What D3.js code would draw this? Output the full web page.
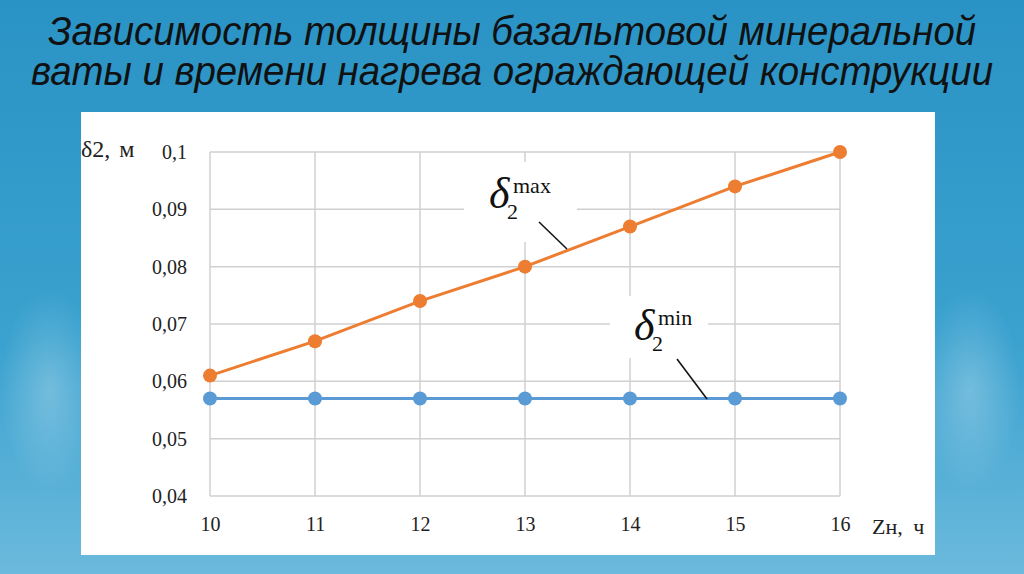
<!DOCTYPE html>
<html>
<head>
<meta charset="utf-8">
<script src="https://cdn.jsdelivr.net/npm/d3@7"></script>
<style>
  html, body { margin: 0; padding: 0; }
  body { width: 1024px; height: 574px; overflow: hidden; }
</style>
</head>
<body>
<div id="chart"></div>
<script>
// data
const hours = [10, 11, 12, 13, 14, 15, 16];
const deltaMax = [0.061, 0.067, 0.074, 0.080, 0.087, 0.094, 0.100];
const deltaMin = [0.057, 0.057, 0.057, 0.057, 0.057, 0.057, 0.057];
const yTicks = [0.04, 0.05, 0.06, 0.07, 0.08, 0.09, 0.1];
const titleLines = ["Зависимость толщины базальтовой минеральной",
                    "ваты и времени нагрева ограждающей конструкции"];

const W = 1024, H = 574;
const svg = d3.select("#chart").append("svg")
    .attr("width", W).attr("height", H);

// background
const defs = svg.append("defs");
const bg = defs.append("linearGradient").attr("id", "bg")
    .attr("x1", 0).attr("y1", 0).attr("x2", 0).attr("y2", 1);
bg.append("stop").attr("offset", "0%").attr("stop-color", "#2a93c5");
bg.append("stop").attr("offset", "60%").attr("stop-color", "#3ba2cf");
bg.append("stop").attr("offset", "100%").attr("stop-color", "#6cbadd");
const glow = defs.append("radialGradient").attr("id", "glow");
glow.append("stop").attr("offset", "0%").attr("stop-color", "#ffffff").attr("stop-opacity", 0.25);
glow.append("stop").attr("offset", "100%").attr("stop-color", "#ffffff").attr("stop-opacity", 0);

svg.append("rect").attr("width", W).attr("height", H).attr("fill", "url(#bg)");
svg.append("ellipse").attr("cx", 50).attr("cy", 390).attr("rx", 50).attr("ry", 100).attr("fill", "url(#glow)");
svg.append("ellipse").attr("cx", 970).attr("cy", 390).attr("rx", 50).attr("ry", 100).attr("fill", "url(#glow)");

// title (narrow look: smaller font stretched vertically)
svg.append("g").selectAll("text")
    .data(titleLines).enter().append("text")
    .attr("transform", (d, i) => `translate(512,${45 + i * 40}) scale(1,1.18)`)
    .attr("text-anchor", "middle")
    .attr("font-family", "'Liberation Sans Narrow', 'Arial Narrow', 'Liberation Sans', sans-serif")
    .attr("font-style", "italic")
    .attr("font-size", 35)
    .attr("fill", "#111")
    .attr("textLength", (d, i) => i === 0 ? 928 : 962)
    .attr("lengthAdjust", "spacingAndGlyphs")
    .text(d => d);

// white panel
svg.append("rect").attr("x", 81).attr("y", 112).attr("width", 854).attr("height", 443).attr("fill", "#fff");
defs.append("clipPath").attr("id", "panel").append("rect")
    .attr("x", 81).attr("y", 112).attr("width", 854).attr("height", 443);

const x = d3.scaleLinear().domain([10, 16]).range([210, 840]);
const y = d3.scaleLinear().domain([0.04, 0.1]).range([496, 152]);
const serif = "'Liberation Serif', 'DejaVu Serif', serif";

// grid
const grid = svg.append("g").attr("stroke", "#d0d0d0").attr("stroke-width", 1.5);
grid.selectAll(".gx").data(hours).enter().append("line")
    .attr("x1", d => x(d)).attr("x2", d => x(d))
    .attr("y1", y(0.1)).attr("y2", y(0.04));
grid.selectAll(".gy").data(yTicks).enter().append("line")
    .attr("x1", x(10)).attr("x2", x(16))
    .attr("y1", d => y(d)).attr("y2", d => y(d));

// axes labels
const yAxis = d3.axisLeft(y).tickValues(yTicks)
    .tickFormat(d => d3.format(".2~f")(d).replace(".", ",")).tickSize(0).tickPadding(23);
svg.append("g").attr("transform", `translate(${x(10)},0)`).call(yAxis)
    .call(g => g.select(".domain").remove())
    .call(g => g.selectAll("text").attr("font-family", serif).attr("font-size", 20).attr("fill", "#222"));

const xAxis = d3.axisBottom(x).tickValues(hours).tickFormat(d3.format("d")).tickSize(0).tickPadding(21);
svg.append("g").attr("transform", `translate(0,${y(0.04)})`).call(xAxis)
    .call(g => g.select(".domain").remove())
    .call(g => g.selectAll("text").attr("font-family", serif).attr("font-size", 20).attr("fill", "#222"));

svg.append("text").attr("x", 81).attr("y", 157)
    .attr("font-family", serif).attr("font-size", 24).attr("fill", "#222")
    .attr("word-spacing", 3)
    .text("δ2, м");
svg.append("text").attr("x", 872).attr("y", 534)
    .attr("clip-path", "url(#panel)")
    .attr("font-family", serif).attr("font-size", 22).attr("fill", "#222")
    .attr("word-spacing", 5)
    .text("Zн, ч");

// label boxes over grid
svg.append("rect").attr("x", 464).attr("y", 162).attr("width", 113).attr("height", 80).attr("fill", "#fff");
svg.append("rect").attr("x", 610).attr("y", 296).attr("width", 98).attr("height", 62).attr("fill", "#fff");

// series
const series = [
    { values: deltaMin, color: "#5b9bd5" },
    { values: deltaMax, color: "#ed7d31" }
];
const line = d3.line().x((d, i) => x(hours[i])).y(d => y(d));
series.forEach(s => {
    svg.append("path").datum(s.values)
        .attr("d", line).attr("fill", "none")
        .attr("stroke", s.color).attr("stroke-width", 3);
    svg.append("g").selectAll("circle").data(s.values).enter().append("circle")
        .attr("cx", (d, i) => x(hours[i])).attr("cy", d => y(d))
        .attr("r", 7).attr("fill", s.color);
});

// callouts
function callout(tx, ty, sup, x1, y1, x2, y2) {
    const t = svg.append("text").attr("font-family", serif).attr("fill", "#111");
    t.append("tspan").attr("x", tx).attr("y", ty).attr("font-size", 44).attr("font-style", "italic").text("δ");
    t.append("tspan").attr("x", tx + 18).attr("y", ty + 11).attr("font-size", 22).text("2");
    t.append("tspan").attr("x", tx + 24).attr("y", ty - 15).attr("font-size", 22).text(sup);
    svg.append("line").attr("x1", x1).attr("y1", y1).attr("x2", x2).attr("y2", y2)
        .attr("stroke", "#111").attr("stroke-width", 1.5);
}
callout(489, 208, "max", 539, 222, 567, 249);
callout(634, 340, "min", 677, 359, 707, 399);
</script>
</body>
</html>
